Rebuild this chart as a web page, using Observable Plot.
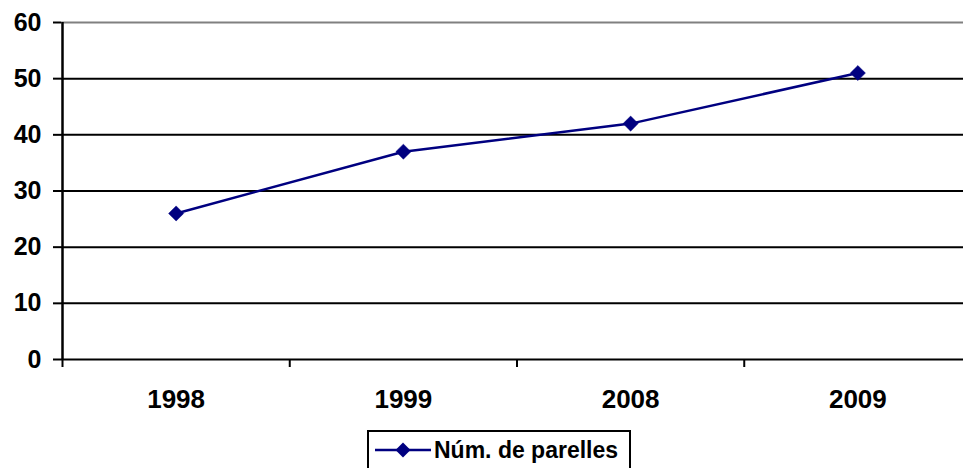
<!DOCTYPE html>
<html>
<head>
<meta charset="utf-8">
<script src="https://cdn.jsdelivr.net/npm/d3@7"></script>
<script src="https://cdn.jsdelivr.net/npm/@observablehq/plot@0.6"></script>
<style>
  html, body { margin: 0; padding: 0; background: #fff; }
  #chart svg { display: block; }
  .legend {
    position: absolute; left: 367px; top: 430px;
    width: 260px; height: 36px;
    border: 2px solid #000; border-bottom: none;
    display: flex; align-items: center;
    font-family: "Liberation Sans", Arial, sans-serif; font-weight: bold; font-size: 23px; color: #000;
  }
  .legend svg { margin-left: 6px; margin-right: 3px; }
</style>
</head>
<body>
<div id="chart"></div>
<div class="legend" id="legend"></div>
<script>
const categories = ["1998", "1999", "2008", "2009"];
const values = [26, 37, 42, 51];
const seriesName = "Núm. de parelles";
const yTicks = [0, 10, 20, 30, 40, 50, 60];

const data = categories.map((c, i) => ({cat: c, idx: i + 0.5, value: values[i]}));
const bandEdges = d3.range(categories.length + 1);
const navy = "#000080";

const plot = Plot.plot({
  width: 963,
  height: 428,
  marginLeft: 61,
  marginTop: 22,
  marginRight: 0,
  marginBottom: 69,
  style: {fontFamily: "'Liberation Sans', Arial, sans-serif", fontWeight: "bold", fontSize: "25px", color: "#000", background: "#fff"},
  x: {domain: [0, categories.length], range: [62, 971], label: null},
  y: {domain: [0, 60], range: [359, 22], label: null},
  marks: [
    Plot.ruleY(yTicks.filter(d => d > 0 && d < 60), {stroke: "#000", strokeWidth: 2}),
    Plot.ruleY([60], {stroke: "#808080", strokeWidth: 2}),
    Plot.ruleY([0], {stroke: "#000", strokeWidth: 2}),
    Plot.axisY({ticks: yTicks, label: null, tickSize: 8, tickPadding: 12, strokeWidth: 2, fontSize: 25, fontWeight: "bold"}),
    Plot.ruleX([0], {stroke: "#000", strokeWidth: 2.5, y1: 0, y2: 60}),
    Plot.axisX({ticks: bandEdges, label: null, tickFormat: () => "", tickSize: 8, strokeWidth: 2}),
    Plot.axisX({ticks: data.map(d => d.idx), label: null, tickFormat: (d) => categories[Math.floor(d)], tickSize: 0, tickPadding: 30, fontSize: 26, fontWeight: "bold"}),
    Plot.line(data, {x: "idx", y: "value", stroke: navy, strokeWidth: 2.5}),
    Plot.dot(data, {x: "idx", y: "value", symbol: "diamond2", r: 6.8, fill: navy, stroke: navy, strokeWidth: 0.5})
  ]
});
document.getElementById("chart").appendChild(plot);

// legend
const lg = document.getElementById("legend");
const sw = d3.create("svg").attr("width", 56).attr("height", 20);
sw.append("line").attr("x1", 0).attr("x2", 56).attr("y1", 10).attr("y2", 10).attr("stroke", navy).attr("stroke-width", 2.5);
sw.append("path").attr("d", d3.symbol(d3.symbolDiamond2, 144)()).attr("transform", "translate(28,10)").attr("fill", navy);
lg.appendChild(sw.node());
const t = document.createElement("span");
t.textContent = seriesName;
lg.appendChild(t);
</script>
</body>
</html>
